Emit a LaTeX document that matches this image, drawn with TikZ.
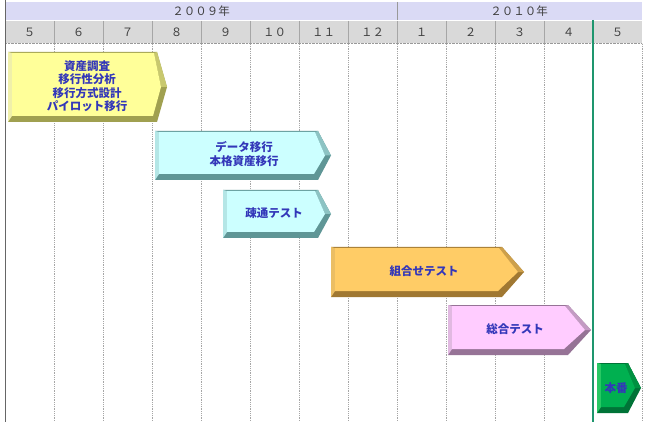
\documentclass[tikz,border=0pt]{standalone}
\usepackage{fontspec}
\usepackage{xcolor}
\usetikzlibrary{positioning}
\newfontfamily\jp{Noto Sans CJK JP}
\definecolor{yearband}{RGB}{218,218,245}
\definecolor{monthband}{RGB}{217,217,217}
\definecolor{txtblue}{RGB}{51,55,185}
\definecolor{golive}{RGB}{30,150,110}
\definecolor{yelF}{RGB}{255,255,153}
\definecolor{yelL}{RGB}{240,240,170}
\definecolor{yelM}{RGB}{200,200,110}
\definecolor{yelD}{RGB}{160,160,80}
\definecolor{cyaF}{RGB}{204,255,255}
\definecolor{cyaL}{RGB}{180,230,230}
\definecolor{cyaM}{RGB}{140,195,195}
\definecolor{cyaD}{RGB}{95,150,150}
\definecolor{oraF}{RGB}{255,204,102}
\definecolor{oraL}{RGB}{235,190,100}
\definecolor{oraM}{RGB}{205,160,75}
\definecolor{oraD}{RGB}{160,120,50}
\definecolor{pinF}{RGB}{255,204,255}
\definecolor{pinL}{RGB}{225,185,225}
\definecolor{pinM}{RGB}{195,155,195}
\definecolor{pinD}{RGB}{150,115,150}
\definecolor{grnF}{RGB}{0,176,80}
\definecolor{grnL}{RGB}{40,200,100}
\definecolor{grnM}{RGB}{0,145,65}
\definecolor{grnD}{RGB}{0,115,55}
% left, top, bottom, body end, tip, colour
\newcommand{\phasebar}[6]{%
  \fill[#6D] (#1,#2) -- (#4,#2) -- (#5,{(#2+#3)/2}) -- (#4,#3) -- (#1,#3) -- cycle;
  \fill[#6M] (#4,#2) -- (#5,{(#2+#3)/2}) -- ({#5-6},{(#2+#3)/2}) -- ({#4-3},{#2+1}) -- cycle;
  \fill[#6L] (#1,#2) -- ({#1+4},{#2+1}) -- ({#1+4},{#3-6}) -- (#1,#3) -- cycle;
  \fill[#6F] ({#1+4},{#2+1}) -- ({#4-3},{#2+1}) -- ({#5-6},{(#2+#3)/2}) -- ({#4-4},{#3-6}) -- ({#1+4},{#3-6}) -- cycle;
}
\tikzset{
  phasetext/.style={font=\jp\bfseries\fontsize{11.5}{13.5}\selectfont, text=txtblue, align=center, inner sep=0pt},
  headtext/.style={font=\jp\fontsize{11.5}{12}\selectfont, text=black!75, inner sep=0pt},
  grid/.style={gray!70, densely dotted, line width=0.8pt}
}

\begin{document}
\begin{tikzpicture}[x=1pt,y=-1pt]
    \useasboundingbox (0,0) rectangle (648,422);
    \fill[white] (0,0) rectangle (648,422);
    % header bands
    \fill[yearband] (5,2) rectangle (642,20);
    \fill[monthband] (5,21) rectangle (642,43);
    \draw[gray!80] (397,2) -- (397,20);
    \node (y2009) [headtext] at (201,11) {２００９年};
    \node (y2010) [headtext] at (519,11) {２０１０年};
    \foreach \m [count=\i from 0] in {５,６,７,８,９,１０,１１,１２,１,２,３,４,５} {
        \node (m\i) [headtext] at ({29.5+49*\i},32) {\m};
    }
    \foreach \i in {1,...,12} {
        \draw[gray!70] ({5+49*\i},21) -- ({5+49*\i},43);
    }
    \draw[gray!80, densely dotted] (5,43) -- (642,43);
    % grid
    \foreach \i in {1,...,11,13} {
        \draw[grid] ({5+49*\i},44) -- ({5+49*\i},422);
    }
    \draw[black!60, line width=1.5pt] (5.5,0) -- (5.5,422);
    \draw[golive, line width=1.3pt] (593,20) -- (593,422);
    % phases
    \phasebar{8}{52}{122}{157}{167}{yel}
    \node (shisan) [phasetext] at (87,86) {資産調査\\移行性分析\\移行方式設計\\パイロット移行};
    \phasebar{155}{131}{180}{318}{331}{cya}
    \node (data) [phasetext] at (244,154) {データ移行\\本格資産移行};
    \phasebar{223}{190}{238}{318}{331}{cya}
    \node (sotsu) [phasetext] at (274,213) {疎通テスト};
    \phasebar{331}{247}{297}{502}{524}{ora}
    \node (kumiawase) [phasetext] at (424,271) {組合せテスト};
    \phasebar{448}{305}{355}{568}{591}{pin}
    \node (sougou) [phasetext] at (515,329) {総合テスト};
    \phasebar{597}{363}{413}{628}{641}{grn}
    \node (honban) [phasetext] at (616,388) {本番};
\end{tikzpicture}
\end{document}
